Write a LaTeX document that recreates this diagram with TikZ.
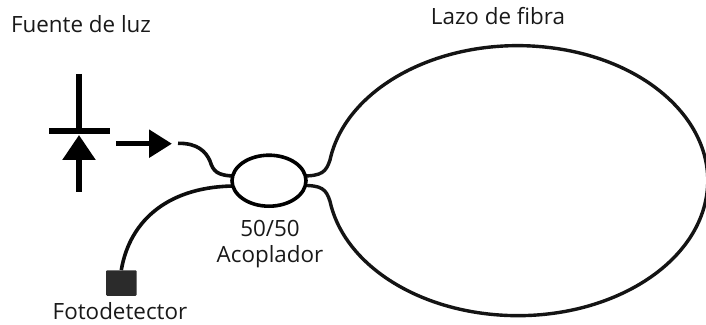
\documentclass[tikz,border=0pt]{standalone}
\usepackage{fontspec}
\setmainfont{Open Sans}
\usetikzlibrary{arrows.meta,positioning,shapes.geometric}
\tikzset{
  fiber/.style={line width=3.6pt,color=black!95},
  loopfiber/.style={line width=3.4pt,color=black!92},
  beam/.style={line width=5.6pt,-{Triangle[width=27pt,length=23pt]}},
  caption/.style={font=\fontsize{22.4}{26}\selectfont,inner sep=0pt,text=black!90}
}
\begin{document}
\begin{tikzpicture}[x=1pt,y=1pt]
   \clip (0,0) rectangle (706,324);
   \useasboundingbox (0,0) rectangle (706,324);
   % light source
   \coordinate (sa) at (79,250);
   \coordinate (sb) at (79,193);
   \coordinate (sc) at (49,193);
   \coordinate (sd) at (110,193);
   \coordinate (se) at (79,132);
   \coordinate (sf) at (79,189);
   \draw[line width=5.6pt] (sa) -- (sb);
   \draw[line width=5.6pt] (sc) -- (sd);
   \draw[line width=5.6pt,-{Triangle[width=32pt,length=25pt]}] (se) -- (sf);
   \coordinate (ba) at (116,180.3);
   \coordinate (bb) at (172,180.3);
   \draw[beam] (ba) -- (bb);
   % fibres
   \coordinate (fa) at (178,180.7);
   \coordinate (fb) at (236,148);
   \coordinate (fc) at (236,138);
   \coordinate (fd) at (302,148);
   \coordinate (fe) at (302,138.6);
   \coordinate (la) at (330,164);
   \coordinate (lb) at (330,122.6);
   \node[rectangle,fill=black!83,rounded corners=1pt,minimum width=30.5pt,minimum height=25.5pt,inner sep=0pt] (detector) at (121.3,41) {};
   \draw[fiber] (fa) .. controls (198,181) and (206,172) .. (210,163) .. controls (213,153) and (217,148) .. (fb);
   \draw[fiber] (fc) .. controls (170,138) and (130,105) .. (detector.north);
   \draw[loopfiber] (fd) .. controls (322,148) and (326,152) .. (la)
      arc[start angle=171.2,end angle=-171.2,x radius=190,y radius=135]
      .. controls (326,135) and (322,138.6) .. (fe);
   \node[ellipse,draw,fill=white,line width=3.6pt,minimum width=74pt,minimum height=51pt,inner sep=0pt] (coupler) at (269,143.3) {};
   % labels
   \node[caption] (source) at (81,299.5) {Fuente de luz};
   \node[caption] (loop) at (498,308) {Lazo de fibra};
   \node[caption] (ratio) at (270,96) {50/50};
   \node[caption] (name) [below=9pt of ratio] {Acoplador};
   \node[caption] (pd) at (120,13) {Fotodetector};
\end{tikzpicture}
\end{document}
